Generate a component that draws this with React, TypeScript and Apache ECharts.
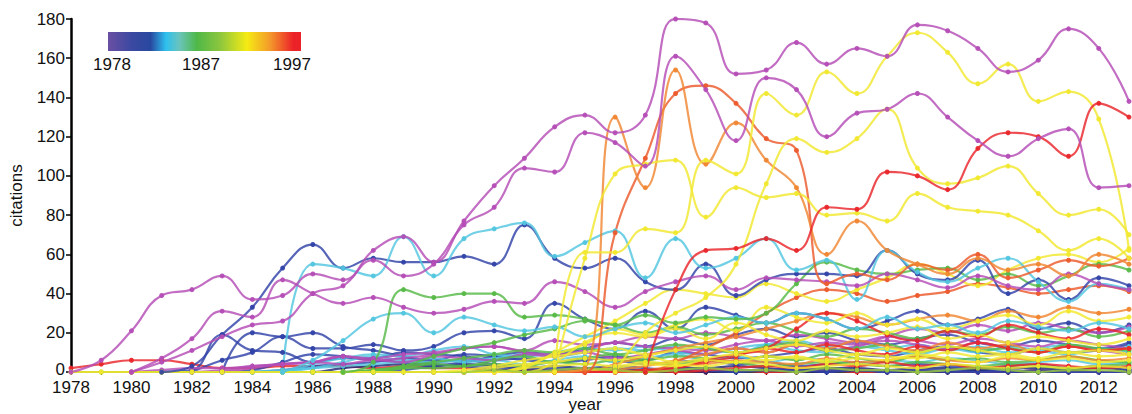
import React, { useEffect, useRef } from "react";
import * as echarts from "echarts";

// Citation counts per year for papers published 1978–1997, colored by publication year.

const MAGENTA = "#b54db6";
const BLUE = "#3243a8";
const NAVY = "#1d2775";
const CYAN = "#52c6df";
const GREEN = "#57b947";
const LIME = "#9ccc3c";
const YELLOW = "#f1e82e";
const ORANGE = "#f08632";
const ORANGE_RED = "#ec5a2c";
const RED = "#e9262b";

const FIRST_YEAR = 1978;
const LAST_YEAR = 2013;

const Y_TICKS = [0, 20, 40, 60, 80, 100, 120, 140, 160, 180];
const LEGEND_LABELS = ["1978", "1987", "1997"];

// Background papers (values start at the "from" year)
const r0 = [2, 4, 6, 6, 4, 2, 2, 3, 3, 3, 2, 3, 2, 2, 1, 1, 1, 2, 1, 0, 1, 0, 1, 0, 0, 1, 0, 0, 1, 0, 0, 0, 1, 0, 0, 0];
const mgL1 = [0, 1, 2, 2, 3, 4, 5, 8, 6, 7, 9, 12, 13, 11, 16, 14, 15, 18, 17, 20, 18, 16, 19, 17, 15, 18, 16, 14, 17, 15, 13, 16, 14, 12];
const mgL2 = [0, 1, 3, 4, 5, 4, 6, 5, 8, 7, 6, 9, 8, 10, 7, 9, 11, 9, 12, 10, 14, 11, 13, 16, 14, 12, 15, 12, 10, 13, 11, 9];
const blA = [0, 1, 19, 11, 10, 5, 7, 6, 5, 4, 3, 2, 2, 1, 2, 1, 1, 2, 1, 0, 1, 1, 0, 1, 0, 1, 0, 0, 1, 0, 0, 0, 0];
const blB = [0, 20, 18, 20, 13, 11, 8, 6, 9, 8, 6, 5, 7, 6, 4, 5, 6, 4, 5, 3, 4, 5, 3, 4, 3, 2, 3, 4, 2, 3, 2];
const blC = [0, 6, 10, 18, 12, 12, 14, 11, 13, 20, 21, 17, 35, 27, 22, 31, 22, 33, 29, 25, 30, 27, 22, 26, 31, 24, 27, 32, 22, 25, 20, 24];
const blD = [0, 1, 5, 9, 8, 7, 10, 9, 8, 6, 7, 5, 6, 8, 6, 10, 9, 7, 8, 10, 12, 9, 8, 11, 13, 10, 9, 12, 10, 11, 14];
const blE = [0, 1, 3, 4, 5, 7, 5, 6, 4, 3, 2, 2, 3, 2, 1, 2, 1, 1, 2, 1, 1, 0, 1, 1, 0, 0, 1, 0, 0, 1];
const nvA = [0, 0, 2, 3, 4, 3, 4, 3, 2, 3, 2, 2, 1, 2, 2, 3, 2, 1, 2, 2, 1, 2, 2, 1, 2, 2, 1, 2, 1];
const cyA = [0, 0, 4, 7, 9, 8, 11, 13, 9, 8, 10, 12, 11, 13, 10, 9, 12, 14, 11, 10, 13, 11, 9, 12, 10, 13, 11, 9, 12, 10];
const cyB = [0, 2, 5, 8, 6, 7, 5, 6, 4, 6, 8, 5, 7, 9, 6, 8, 5, 7, 6, 4, 6, 5, 7, 6, 4, 5, 6, 4, 5];
const cyC = [0, 1, 2, 3, 4, 5, 5, 6, 7, 9, 8, 10, 12, 11, 13, 12, 10, 14, 16, 13, 15, 12, 14, 11, 13, 10, 12, 14, 11, 13];
const mgM = [0, 2, 4, 5, 8, 7, 9, 10, 12, 13, 10, 9, 11, 15, 13, 12, 11, 14, 16, 13, 15, 14, 18, 22, 20, 24, 21, 25, 22, 20, 23];
const grA = [0, 0, 1, 3, 5, 7, 9, 11, 10, 12, 9, 11, 14, 12, 10, 13, 15, 11, 12, 14, 10, 13, 11, 12, 10, 14, 12, 11];
const grB = [0, 0, 2, 4, 3, 6, 8, 5, 7, 9, 6, 8, 7, 5, 8, 6, 9, 7, 5, 8, 6, 7, 5, 6, 8, 6, 5];
const grC = [0, 0, 0, 1, 2, 2, 3, 4, 3, 5, 4, 6, 5, 4, 6, 5, 3, 4, 5, 4, 3, 5, 4, 3, 4, 3, 2, 3, 4];
const grD = [0, 0, 3, 8, 12, 15, 19, 22, 26, 24, 20, 23, 19, 22, 25, 21, 18, 22, 20, 17, 21, 19, 23, 20, 22, 18, 21];
const blG = [0, 0, 1, 3, 5, 8, 10, 9, 12, 15, 13, 17, 14, 19, 22, 18, 20, 16, 14, 17, 19, 15, 13, 16, 14, 12, 15];
const nvZ = [0, 0, 1, 1, 0, 1, 0, 0, 1, 0, 0, 1, 0, 0, 1, 0, 0, 0, 1, 0, 0, 1, 0, 0];
const orA = [0, 0, 0, 4, 8, 12, 15, 18, 22, 26, 30, 28, 24, 27, 29, 26, 31, 28, 33, 30, 32];
const orB = [0, 0, 1, 3, 6, 9, 12, 10, 14, 12, 16, 13, 11, 15, 12, 14, 10, 13, 11, 12];
const orC = [0, 0, 0, 1, 3, 4, 6, 5, 4, 7, 5, 6, 8, 6, 5, 7, 6, 8, 6, 7];
const rdA = [0, 0, 0, 0, 0, 0, 0, 1, 2, 5, 8, 12, 10, 14, 11, 9, 13, 11, 15, 12, 10, 13, 11, 12];
const rdB = [0, 0, 0, 0, 0, 0, 1, 0, 1, 2, 3, 2, 4, 3, 5, 3, 4, 2, 3, 4, 3, 2, 3];
const rdC = [0, 0, 2, 6, 9, 12, 22, 30, 26, 19, 16, 21, 18, 24, 20, 17, 22, 19];
const rdD = [0, 0, 5, 12, 20, 30, 38, 42, 40, 36, 39, 41, 45, 43, 40, 42, 44, 41];
const ylB = [0, 0, 2, 4, 5, 7, 6, 8, 5, 7, 9, 6, 8, 5, 7, 6, 9, 7, 5, 8, 6, 7, 5, 6];
const ylC = [0, 0, 0, 2, 3, 4, 3, 5, 4, 3, 5, 4, 2, 3, 4, 3, 2, 4, 3, 2, 3, 2, 3, 2];
const ylD = [0, 0, 3, 9, 14, 22, 19, 24, 27, 21, 33, 28, 25, 30, 24, 27, 22, 26, 29, 24, 31, 26, 28];
const ylE = [0, 0, 5, 15, 20, 18, 22, 17, 25, 19, 16, 21, 18, 20, 23, 17, 19, 15, 18, 16, 14, 17];
const ylF = [0, 2, 10, 18, 26, 35, 42, 40, 38, 45, 40, 36, 42, 48, 55, 50, 44, 52, 58, 60, 56, 63];
const ylG = [0, 0, 1, 2, 4, 3, 6, 5, 8, 7, 6, 9, 8, 7, 10, 8, 9, 7, 10, 8, 9];
const lime = [0, 0, 0, 0, 0, 0, 0, 0, 0, 0, 0, 0, 0, 0, 1, 0, 1, 2, 1, 0, 1, 2, 1, 1, 0, 2, 1, 1, 0, 1, 2, 1, 0, 1, 1, 0];
const ylA = [0, 0, 0, 0, 0, 0, 0, 0, 0, 0, 0, 0, 0, 1, 3, 6, 8, 10, 12, 9, 11, 13, 10, 12, 14, 11, 9, 12, 10, 13, 11, 9, 12, 10, 11, 9];

// Most cited papers
const m1 = [0, 6, 21, 39, 42, 49, 37, 39, 50, 47, 62, 69, 56, 77, 95, 109, 125, 131, 122, 131, 180, 178, 152, 154, 168, 157, 165, 161, 177, 174, 165, 153, 159, 175, 165, 138];
const m2 = [0, 5, 11, 18, 24, 26, 40, 44, 57, 49, 55, 75, 84, 104, 102, 122, 117, 105, 161, 144, 118, 150, 144, 120, 132, 134, 142, 130, 118, 110, 119, 124, 94, 95];
const m3 = [0, 7, 17, 31, 28, 47, 40, 35, 38, 33, 30, 32, 36, 35, 46, 41, 33, 41, 46, 49, 42, 48, 47, 46, 44, 50, 47, 43, 49, 44, 42, 50, 45, 42];
const d1 = [0, 3, 19, 33, 53, 65, 53, 58, 56, 56, 59, 55, 75, 58, 53, 58, 46, 42, 55, 39, 47, 50, 50, 49, 62, 50, 47, 57, 40, 47, 37, 48, 44];
const c1 = [0, 55, 53, 49, 69, 49, 68, 73, 76, 59, 66, 72, 48, 68, 53, 58, 68, 52, 57, 37, 62, 51, 46, 53, 58, 46, 36, 45, 42];
const c2 = [0, 6, 16, 27, 30, 20, 28, 24, 21, 23, 18, 22, 25, 20, 24, 28, 25, 30, 27, 22, 28, 22, 24, 20, 26, 23, 21, 25, 22];
const g1 = [0, 5, 42, 38, 40, 40, 28, 29, 27, 24, 29, 25, 28, 27, 30, 45, 56, 52, 50, 52, 53, 47, 50, 44, 49, 55, 52];
const o1 = [0, 2, 130, 94, 154, 106, 127, 108, 94, 60, 77, 62, 55, 50, 58, 52, 55, 49, 60, 55];
const o2 = [0, 0, 71, 109, 142, 146, 137, 119, 113, 45, 50, 47, 55, 52, 60, 48, 52, 57, 54, 58];
const r1 = [0, 42, 62, 63, 68, 62, 84, 83, 102, 100, 93, 114, 122, 120, 110, 137, 130];
const ya = [0, 58, 101, 106, 108, 79, 94, 89, 91, 80, 81, 77, 91, 84, 82, 80, 72, 62, 68, 58];
const yb = [0, 61, 61, 73, 71, 108, 101, 142, 131, 153, 142, 161, 173, 163, 147, 157, 138, 143, 129, 62];
const yd = [0, 20, 30, 38, 55, 96, 119, 112, 119, 134, 104, 96, 99, 105, 91, 80, 83, 70];

type Paper = { from: number; color: string; counts: number[] };

const PAPERS: Paper[] = [
  { from: 1978, color: RED, counts: r0 },
  { from: 1985, color: NAVY, counts: nvA },
  { from: 1990, color: NAVY, counts: nvZ },
  { from: 1981, color: BLUE, counts: blA },
  { from: 1983, color: BLUE, counts: blB },
  { from: 1982, color: BLUE, counts: blC },
  { from: 1983, color: BLUE, counts: blD },
  { from: 1984, color: BLUE, counts: blE },
  { from: 1987, color: BLUE, counts: blG },
  { from: 1984, color: CYAN, counts: cyA },
  { from: 1985, color: CYAN, counts: cyB },
  { from: 1984, color: CYAN, counts: cyC },
  { from: 1980, color: MAGENTA, counts: mgL1 },
  { from: 1982, color: MAGENTA, counts: mgL2 },
  { from: 1983, color: MAGENTA, counts: mgM },
  { from: 1986, color: GREEN, counts: grA },
  { from: 1987, color: GREEN, counts: grB },
  { from: 1985, color: GREEN, counts: grC },
  { from: 1987, color: GREEN, counts: grD },
  { from: 1993, color: ORANGE, counts: orA },
  { from: 1994, color: ORANGE, counts: orB },
  { from: 1994, color: ORANGE, counts: orC },
  { from: 1990, color: RED, counts: rdA },
  { from: 1991, color: RED, counts: rdB },
  { from: 1996, color: RED, counts: rdC },
  { from: 1996, color: ORANGE_RED, counts: rdD },
  { from: 1990, color: YELLOW, counts: ylB },
  { from: 1990, color: YELLOW, counts: ylC },
  { from: 1991, color: YELLOW, counts: ylD },
  { from: 1992, color: YELLOW, counts: ylE },
  { from: 1992, color: YELLOW, counts: ylF },
  { from: 1993, color: YELLOW, counts: ylG },
  { from: 1978, color: LIME, counts: lime },
  { from: 1978, color: YELLOW, counts: ylA },
  { from: 1985, color: CYAN, counts: c2 },
  { from: 1987, color: GREEN, counts: g1 },
  { from: 1981, color: BLUE, counts: d1 },
  { from: 1985, color: CYAN, counts: c1 },
  { from: 1980, color: MAGENTA, counts: m3 },
  { from: 1994, color: ORANGE_RED, counts: o2 },
  { from: 1994, color: ORANGE, counts: o1 },
  { from: 1994, color: YELLOW, counts: ya },
  { from: 1996, color: YELLOW, counts: yd },
  { from: 1994, color: YELLOW, counts: yb },
  { from: 1997, color: RED, counts: r1 },
  { from: 1980, color: MAGENTA, counts: m2 },
  { from: 1978, color: MAGENTA, counts: m1 },
];

const FONT = '"Liberation Sans", Arial, Helvetica, sans-serif';
const TEXT = "#111111";

export default function App() {
  const ref = useRef<HTMLDivElement>(null);

  useEffect(() => {
    if (!ref.current) return;
    const chart = echarts.init(ref.current, undefined, { renderer: "svg" });

    const series = PAPERS.map((p, i) => ({
      type: "line",
      name: "p" + i,
      data: p.counts.map((v, k) => [p.from + k, v]),
      smooth: 0.45,
      symbol: "circle",
      symbolSize: 5,
      showSymbol: true,
      showAllSymbol: true,
      lineStyle: { width: 2.2, color: p.color, opacity: 0.82 },
      itemStyle: { color: p.color, opacity: 0.95 },
      emphasis: { disabled: true },
      silent: true,
      z: 2,
    }));

    const gradient = new echarts.graphic.LinearGradient(0, 0, 1, 0, [
      { offset: 0, color: "#6a4fa3" },
      { offset: 0.12, color: "#3c49a1" },
      { offset: 0.22, color: "#2848a0" },
      { offset: 0.3, color: "#2ec0ef" },
      { offset: 0.37, color: "#6ac4bc" },
      { offset: 0.46, color: "#4fb848" },
      { offset: 0.58, color: "#8cc63e" },
      { offset: 0.72, color: "#f5eb14" },
      { offset: 0.84, color: "#f3992a" },
      { offset: 0.96, color: "#ec2229" },
      { offset: 1, color: "#ec2229" },
    ]);

    chart.setOption({
      animation: false,
      grid: { left: 64, top: 19, width: 1073, bottom: 42, containLabel: false },
      xAxis: {
        type: "value",
        min: FIRST_YEAR,
        max: LAST_YEAR,
        interval: 1,
        axisLine: { show: true, lineStyle: { color: "#000", width: 1.5 } },
        axisTick: { show: true, length: 3, lineStyle: { color: "#000" } },
        axisLabel: {
          show: true,
          margin: 7,
          fontSize: 17,
          fontFamily: FONT,
          color: TEXT,
          formatter: (v: number) => (v % 2 === 0 && v < LAST_YEAR ? String(v) : ""),
        },
        splitLine: { show: false },
      },
      yAxis: {
        type: "value",
        min: Y_TICKS[0],
        max: Y_TICKS[Y_TICKS.length - 1],
        interval: Y_TICKS[1] - Y_TICKS[0],
        name: "citations",
        nameLocation: "middle",
        nameGap: 46,
        nameTextStyle: { fontSize: 17, fontFamily: FONT, color: TEXT },
        axisLine: { show: true, lineStyle: { color: "#000", width: 2.5 } },
        axisTick: { show: true, length: 5, lineStyle: { color: "#000", width: 1.5 } },
        axisLabel: {
          margin: 6,
          fontSize: 17,
          fontFamily: FONT,
          color: TEXT,
          // the zero label sits a little higher so it clears the first year label
          formatter: (v: number) => (v === 0 ? "{zero|0}" : String(v)),
          rich: {
            zero: {
              fontSize: 17,
              fontFamily: FONT,
              color: TEXT,
              padding: [0, 0, 6, 0],
            },
          },
        },
        splitLine: { show: false },
      },
      graphic: [
        {
          type: "rect",
          x: 108,
          y: 32,
          shape: { width: 193, height: 19 },
          style: { fill: gradient },
          z: 100,
        },
        ...LEGEND_LABELS.map((t, i) => ({
          type: "text",
          x: [112, 201, 292][i],
          y: 64,
          z: 100,
          style: {
            text: t,
            fontSize: 17,
            fontFamily: FONT,
            fill: TEXT,
            align: "center",
            verticalAlign: "middle",
          },
        })),
        {
          type: "text",
          x: 585,
          y: 404,
          z: 100,
          style: {
            text: "year",
            fontSize: 17,
            fontFamily: FONT,
            fill: TEXT,
            align: "center",
            verticalAlign: "middle",
          },
        },
      ],
      series,
    });

    return () => chart.dispose();
  }, []);

  return (
    <div
      ref={ref}
      style={{ position: "absolute", left: 0, top: 0, width: 1132, height: 414 }}
    />
  );
}
